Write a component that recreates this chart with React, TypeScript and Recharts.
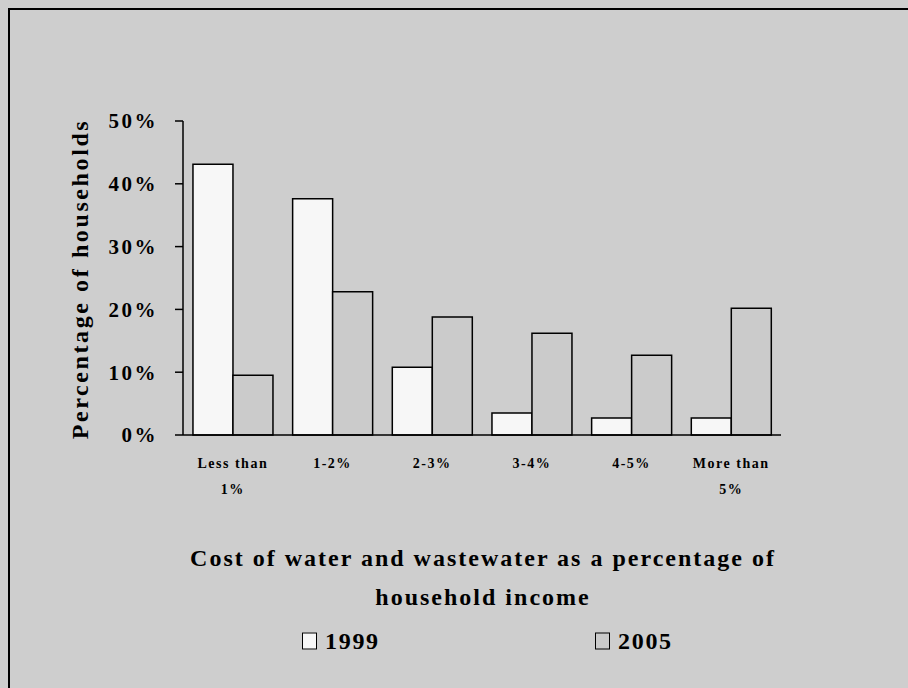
import React from 'react';
import { BarChart, Bar, XAxis, YAxis } from 'recharts';

// Share of households by water/wastewater cost burden
const categories = ['Less than\n1%', '1-2%', '2-3%', '3-4%', '4-5%', 'More than\n5%'];
const values1999 = [43.1, 37.6, 10.8, 3.5, 2.7, 2.7];
const values2005 = [9.5, 22.8, 18.8, 16.2, 12.7, 20.2];
const yTicks = [0, 10, 20, 30, 40, 50];
const categoryEdges = [0, 1, 2, 3, 4, 5, 6];

const seriesList = [
  { key: 'y1999', name: '1999', fill: '#f7f7f7' },
  { key: 'y2005', name: '2005', fill: '#cbcbcb' },
];

const data = categories.map((c, i) => ({
  category: c,
  y1999: values1999[i],
  y2005: values2005[i],
}));

const FONT = '"Liberation Serif", "Times New Roman", serif';
const BG = '#cecece';

const CategoryTick = (props: any) => {
  const { x, y, payload } = props;
  const lines = String(payload.value).split('\n');
  return (
    <g>
      {lines.map((line: string, i: number) => (
        <text
          key={i}
          x={x}
          y={y + 28 + i * 26}
          textAnchor="middle"
          dominantBaseline="central"
          fontFamily={FONT}
          fontWeight="bold"
          fontSize={14}
          letterSpacing={1.5}
          fill="#000"
        >
          {line}
        </text>
      ))}
    </g>
  );
};

export default function App() {
  return (
    <div
      style={{
        position: 'fixed',
        left: 0,
        top: 0,
        width: 908,
        height: 688,
        background: BG,
        overflow: 'hidden',
        fontFamily: FONT,
      }}
    >
      <div
        style={{
          position: 'absolute',
          left: 8,
          top: 8,
          right: 0,
          bottom: 0,
          borderTop: '2px solid #000',
          borderLeft: '2px solid #000',
        }}
      />
      <div style={{ position: 'absolute', left: 0, top: 0 }}>
        <BarChart
          width={908}
          height={688}
          data={data}
          margin={{ top: 121, right: 127, left: 103, bottom: 251 }}
          barCategoryGap="10%"
          barGap={0}
        >
          <XAxis
            dataKey="category"
            height={1}
            interval={0}
            tickLine={false}
            tickSize={0}
            tickMargin={0}
            axisLine={{ stroke: '#000', strokeWidth: 1.5 }}
            tick={<CategoryTick />}
          />
          <XAxis
            xAxisId="edges"
            type="number"
            domain={[0, 6]}
            ticks={categoryEdges}
            allowDataOverflow
            height={1}
            axisLine={false}
            tick={false}
            tickSize={8}
            tickLine={{ stroke: '#000', strokeWidth: 1.5 }}
          />
          <YAxis
            width={80}
            domain={[0, 50]}
            ticks={yTicks}
            tickSize={8}
            tickMargin={17}
            tickFormatter={(v: number) => `${v}%`}
            axisLine={{ stroke: '#000', strokeWidth: 1.5 }}
            tickLine={{ stroke: '#000', strokeWidth: 1.5 }}
            tick={{
              fill: '#000',
              fontFamily: FONT,
              fontWeight: 'bold',
              fontSize: 21,
              letterSpacing: 2.5,
            }}
          />
          {seriesList.map((s) => (
            <Bar
              key={s.key}
              dataKey={s.key}
              name={s.name}
              fill={s.fill}
              stroke="#000"
              strokeWidth={1.5}
              isAnimationActive={false}
            />
          ))}
        </BarChart>
      </div>

      {/* Y-axis title */}
      <div
        style={{
          position: 'absolute',
          left: 80,
          top: 279,
          transform: 'translate(-50%, -50%) rotate(-90deg)',
          whiteSpace: 'nowrap',
          fontWeight: 'bold',
          fontSize: 24,
          letterSpacing: 2.6,
          color: '#000',
        }}
      >
        Percentage of households
      </div>

      {/* X-axis title */}
      <div
        style={{
          position: 'absolute',
          left: 483,
          top: 578,
          transform: 'translate(-50%, -50%)',
          whiteSpace: 'nowrap',
          textAlign: 'center',
          fontWeight: 'bold',
          fontSize: 24,
          lineHeight: '39px',
          letterSpacing: 2,
          color: '#000',
        }}
      >
        Cost of water and wastewater as a percentage of
        <br />
        household income
      </div>

      {/* Legend */}
      {seriesList.map((s, i) => (
        <div
          key={s.key}
          style={{
            position: 'absolute',
            left: i === 0 ? 302 : 595,
            top: 641,
            transform: 'translateY(-50%)',
            display: 'flex',
            alignItems: 'center',
            whiteSpace: 'nowrap',
            fontWeight: 'bold',
            fontSize: 24,
            letterSpacing: 1.7,
            color: '#000',
          }}
        >
          <span
            style={{
              display: 'inline-block',
              width: 13,
              height: 15,
              background: s.fill,
              border: '1px solid #000',
              marginRight: 8,
            }}
          />
          {s.name}
        </div>
      ))}
    </div>
  );
}
